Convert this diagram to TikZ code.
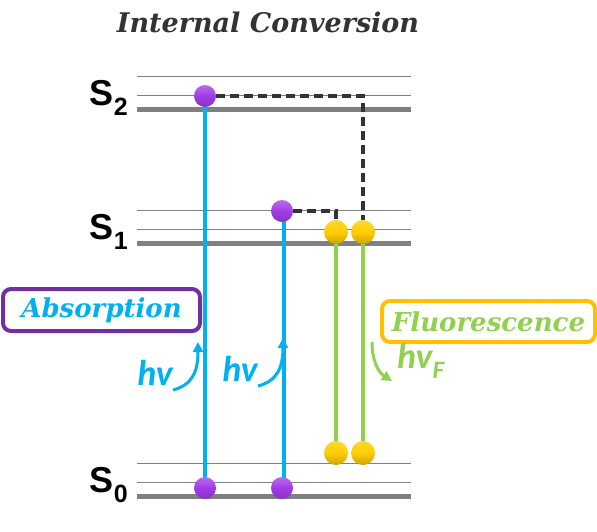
\documentclass[tikz,border=0pt]{standalone}
\usepackage{fontspec}
\setmainfont{DejaVu Serif}
\setsansfont{Liberation Sans}
\newfontfamily\carlito{Carlito}
\usetikzlibrary{arrows.meta, positioning}
\definecolor{photonblue}{RGB}{0,176,240}
\definecolor{fluogreen}{RGB}{146,208,80}
\definecolor{tagpurple}{RGB}{112,48,160}
\definecolor{taggold}{RGB}{255,192,0}
\definecolor{ballpurple}{RGB}{160,60,230}
\definecolor{ballgold}{RGB}{255,205,0}
\definecolor{levelgray}{RGB}{128,128,128}
\definecolor{dashgray}{RGB}{51,51,51}

\begin{document}
\begin{tikzpicture}[x=1pt, y=-1pt,
  level/.style={draw=levelgray, line width=5pt},
  sublevel/.style={draw=levelgray, line width=1pt},
  statelabel/.style={font=\sffamily\bfseries\fontsize{36}{36}\selectfont, anchor=base east, inner sep=0pt},
  pball/.style={circle, minimum size=22pt, inner sep=0pt, top color=ballpurple!75!white, bottom color=ballpurple!85!black, middle color=ballpurple},
  yball/.style={circle, minimum size=24pt, inner sep=0pt, top color=ballgold!80!white, bottom color=ballgold!80!black, middle color=ballgold},
  absorb/.style={draw=photonblue, line width=4pt},
  emit/.style={draw=fluogreen, line width=4pt},
  relax/.style={draw=dashgray, line width=4pt, dash pattern=on 9pt off 5pt},
  hook/.style={line width=3pt, -{Triangle[length=10pt, width=10pt]}},
  hvlabel/.style={font=\carlito\bfseries\itshape\fontsize{36}{36}\selectfont, inner sep=0pt, anchor=base east},
  tag/.style={draw, rounded corners=8pt, line width=4pt, inner sep=0pt, font=\bfseries\itshape\fontsize{26}{26}\selectfont}]
  \useasboundingbox (0,0) rectangle (597,531);

  % energy levels
  \foreach \lvl/\y in {2/109, 1/243, 0/496} {
    \draw[sublevel] (137,\y-33) -- (411,\y-33);
    \draw[sublevel] (137,\y-14) -- (411,\y-14);
    \draw[level] (137,\y) -- (411,\y);
    \node[statelabel] (S\lvl) at (128,\y-4) {S\raisebox{-0.28em}{\fontsize{25}{25}\selectfont\lvl}};
  }

  \node[font=\bfseries\itshape\fontsize{27}{27}\selectfont, text=dashgray] (title) at (268,22) {Internal Conversion};

  % transitions
  \draw[absorb] (205,96) -- (205,488);
  \draw[absorb] (284,211) -- (284,488);
  \draw[emit] (336,232) -- (336,453);
  \draw[emit] (363,232) -- (363,453);

  % electrons
  \node[pball] (a2) at (205,96) {};
  \node[pball] (b1) at (282,211) {};
  \node[pball] (a0) at (205,488) {};
  \node[pball] (b0) at (282,488) {};
  \node[yball] (f1) at (336,232) {};
  \node[yball] (g1) at (363,232) {};
  \node[yball] (f0) at (336,453) {};
  \node[yball] (g0) at (363,453) {};

  \draw[relax] (a2.east) -| (g1.north);
  \draw[relax] (b1.east) -| (f1.north);

  % labels
  \node[tag, draw=tagpurple, text=photonblue, minimum width=197pt, minimum height=42pt] (absorption) at (101.5,310) {Absorption};
  \node[tag, draw=taggold, text=fluogreen, minimum width=213pt, minimum height=41pt] (fluorescence) at (488.5,321.5) {Fluorescence};

  \node[hvlabel, text=photonblue] (hv1) at (173,385) {hv};
  \node[hvlabel, text=photonblue] (hv2) at (258,381) {hv};
  \node[hvlabel, text=fluogreen, anchor=base west] (hvF) at (397,368) {hv\raisebox{-0.28em}{\fontsize{25}{25}\selectfont F}};
  \draw[hook, photonblue] ([yshift=-5pt]hv1.base east) .. controls (192,385) and (198,372) .. (198,342);
  \draw[hook, photonblue] ([yshift=-5pt]hv2.base east) .. controls (277,381) and (283,368) .. (283,338);
  \draw[hook, fluogreen] (372,342) .. controls (372,360) and (378,372) .. (392,381);
\end{tikzpicture}
\end{document}
